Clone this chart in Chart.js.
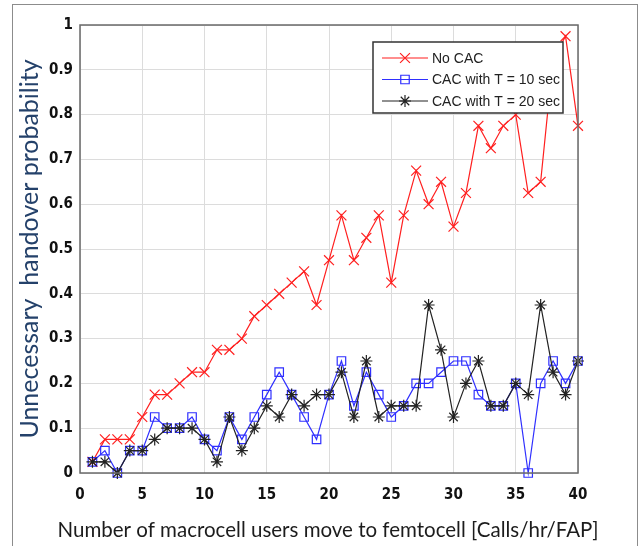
<!DOCTYPE html>
<html>
<head>
<meta charset="utf-8">
<script src="https://cdn.jsdelivr.net/npm/chart.js@4.4.1/dist/chart.umd.min.js"></script>
<style>
  html, body { margin: 0; padding: 0; background: #fff; }
  #wrap { position: relative; width: 641px; height: 546px; overflow: hidden; }
  #frame { position: absolute; left: 12px; top: 4px; width: 624px; height: 600px; border: 1.5px solid #8c8c8c; }
  #chart { position: absolute; left: 0; top: 0; }
</style>
</head>
<body>
<div id="wrap">
  <div id="frame"></div>
  <canvas id="chart" width="641" height="546"></canvas>
</div>
<script>
// Arrival rate (x axis)
const arrivals = [1, 2, 3, 4, 5, 6, 7, 8, 9, 10, 11, 12, 13, 14, 15, 16, 17, 18, 19, 20,
                  21, 22, 23, 24, 25, 26, 27, 28, 29, 30, 31, 32, 33, 34, 35, 36, 37, 38, 39, 40];

// Unnecessary handover probability per scheme
const noCac = [0.025, 0.075, 0.075, 0.075, 0.125, 0.175, 0.175, 0.2, 0.225, 0.225,
               0.275, 0.275, 0.3, 0.35, 0.375, 0.4, 0.425, 0.45, 0.375, 0.475,
               0.575, 0.475, 0.525, 0.575, 0.425, 0.575, 0.675, 0.6, 0.65, 0.55,
               0.625, 0.775, 0.725, 0.775, 0.8, 0.625, 0.65, 0.925, 0.975, 0.775];
const cacT10 = [0.025, 0.05, 0, 0.05, 0.05, 0.125, 0.1, 0.1, 0.125, 0.075,
                0.05, 0.125, 0.075, 0.125, 0.175, 0.225, 0.175, 0.125, 0.075, 0.175,
                0.25, 0.15, 0.225, 0.175, 0.125, 0.15, 0.2, 0.2, 0.225, 0.25,
                0.25, 0.175, 0.15, 0.15, 0.2, 0, 0.2, 0.25, 0.2, 0.25];
const cacT20 = [0.025, 0.025, 0, 0.05, 0.05, 0.075, 0.1, 0.1, 0.1, 0.075,
                0.025, 0.125, 0.05, 0.1, 0.15, 0.125, 0.175, 0.15, 0.175, 0.175,
                0.225, 0.125, 0.25, 0.125, 0.15, 0.15, 0.15, 0.375, 0.275, 0.125,
                0.2, 0.25, 0.15, 0.15, 0.2, 0.175, 0.375, 0.225, 0.175, 0.25];

const seriesLabels = ["No CAC", "CAC with T = 10 sec", "CAC with T = 20 sec"];
const xTicks = [0, 5, 10, 15, 20, 25, 30, 35, 40];
const yTicks = [0, 0.1, 0.2, 0.3, 0.4, 0.5, 0.6, 0.7, 0.8, 0.9, 1];
const xTitle = "Number of macrocell users move to femtocell [Calls/hr/FAP]";
const yTitle = "Unnecessary  handover probability";

const toPoints = vals => vals.map((v, i) => ({ x: arrivals[i], y: v }));

const tickFont = { family: "'Liberation Sans Narrow', 'DejaVu Sans Condensed', 'Arial Narrow', sans-serif", size: 15, weight: "bold" };

// small marker painter for the legend
function drawMarker(ctx, style, x, y, r) {
  ctx.beginPath();
  if (style === "crossRot") {
    const d = r * Math.SQRT1_2;
    ctx.moveTo(x - d, y - d); ctx.lineTo(x + d, y + d);
    ctx.moveTo(x - d, y + d); ctx.lineTo(x + d, y - d);
  } else if (style === "rect") {
    const s = r * Math.SQRT1_2;
    ctx.rect(x - s, y - s, 2 * s, 2 * s);
  } else if (style === "star") {
    const d = r * Math.SQRT1_2;
    ctx.moveTo(x - r, y); ctx.lineTo(x + r, y);
    ctx.moveTo(x, y - r); ctx.lineTo(x, y + r);
    ctx.moveTo(x - d, y - d); ctx.lineTo(x + d, y + d);
    ctx.moveTo(x - d, y + d); ctx.lineTo(x + d, y - d);
  }
  ctx.stroke();
}

// box around the axes, legend inside the plot (matlab style), wide x title
const boxLegend = {
  id: "boxLegend",
  afterDatasetsDraw(chart) {
    const ctx = chart.ctx;
    const a = chart.chartArea;
    ctx.save();
    ctx.strokeStyle = "#6a6a6a";
    ctx.lineWidth = 1.5;
    ctx.strokeRect(a.left, a.top, a.right - a.left, a.bottom - a.top);

    const bx = a.right - 205, by = a.top + 17, bw = 190, bh = 71;
    ctx.fillStyle = "#fff";
    ctx.fillRect(bx, by, bw, bh);
    ctx.strokeStyle = "#333";
    ctx.lineWidth = 1.5;
    ctx.strokeRect(bx, by, bw, bh);

    chart.data.datasets.forEach((ds, i) => {
      const y = by + 16 + i * 21.5;
      ctx.strokeStyle = ds.borderColor;
      ctx.lineWidth = ds.borderWidth;
      ctx.beginPath();
      ctx.moveTo(bx + 9, y); ctx.lineTo(bx + 55, y);
      ctx.stroke();
      ctx.lineWidth = ds.pointBorderWidth;
      drawMarker(ctx, ds.pointStyle, bx + 32, y, ds.pointRadius);
      ctx.fillStyle = "#222";
      ctx.font = "14px 'Liberation Sans', Arial, sans-serif";
      ctx.textBaseline = "middle";
      ctx.textAlign = "left";
      ctx.fillText(ds.label, bx + 59, y + 1);
    });

    // x title is wider than the axes, so the scale title would squeeze it
    ctx.fillStyle = "#1c1c1c";
    ctx.font = "20.5px Lato, 'Open Sans', sans-serif";
    ctx.textAlign = "center";
    ctx.textBaseline = "middle";
    ctx.fillText(xTitle, (a.left + a.right) / 2 - 1, 530, 541);
    ctx.restore();
  }
};

new Chart(document.getElementById("chart").getContext("2d"), {
  type: "line",
  data: {
    datasets: [
      {
        label: seriesLabels[0],
        data: toPoints(noCac),
        borderColor: "#ff1f1f",
        backgroundColor: "rgba(0,0,0,0)",
        borderWidth: 1.2,
        pointStyle: "crossRot",
        pointRadius: 7,
        pointBorderWidth: 1.2,
        order: 2,
        clip: false
      },
      {
        label: seriesLabels[1],
        data: toPoints(cacT10),
        borderColor: "#2f2fff",
        backgroundColor: "rgba(0,0,0,0)",
        borderWidth: 1.2,
        pointStyle: "rect",
        pointRadius: 6,
        pointBorderWidth: 1.2,
        order: 1,
        clip: false
      },
      {
        label: seriesLabels[2],
        data: toPoints(cacT20),
        borderColor: "#222222",
        backgroundColor: "rgba(0,0,0,0)",
        borderWidth: 1.2,
        pointStyle: "star",
        pointRadius: 6,
        pointBorderWidth: 1.2,
        order: 0,
        clip: false
      }
    ]
  },
  options: {
    responsive: false,
    animation: false,
    layout: { padding: { left: 0, right: 63, top: 25, bottom: 0 } },
    plugins: {
      legend: { display: false },
      tooltip: { enabled: false }
    },
    elements: { line: { tension: 0 } },
    scales: {
      x: {
        type: "linear",
        min: 0,
        max: 40,
        afterFit: s => { s.height = 73; },
        afterBuildTicks: s => { s.ticks = xTicks.map(v => ({ value: v })); },
        ticks: { font: tickFont, color: "#111", padding: 13, maxRotation: 0 },
        grid: { color: "#dcdcdc", lineWidth: 1, drawTicks: false },
        border: { display: false },
        title: { display: false }
      },
      y: {
        type: "linear",
        min: 0,
        max: 1,
        afterFit: s => { s.width = 80; },
        afterBuildTicks: s => { s.ticks = yTicks.map(v => ({ value: v })); },
        ticks: {
          font: tickFont,
          color: "#111",
          padding: 7,
          callback: v => (v === 0 || v === 1) ? String(v) : v.toFixed(1)
        },
        grid: { color: "#dcdcdc", lineWidth: 1, drawTicks: false },
        border: { display: false },
        title: {
          display: true,
          text: yTitle,
          font: { family: "Lato, 'Open Sans', sans-serif", size: 25 },
          color: "#24416a",
          padding: { top: 15, bottom: 0 }
        }
      }
    }
  },
  plugins: [boxLegend]
});
</script>
</body>
</html>
